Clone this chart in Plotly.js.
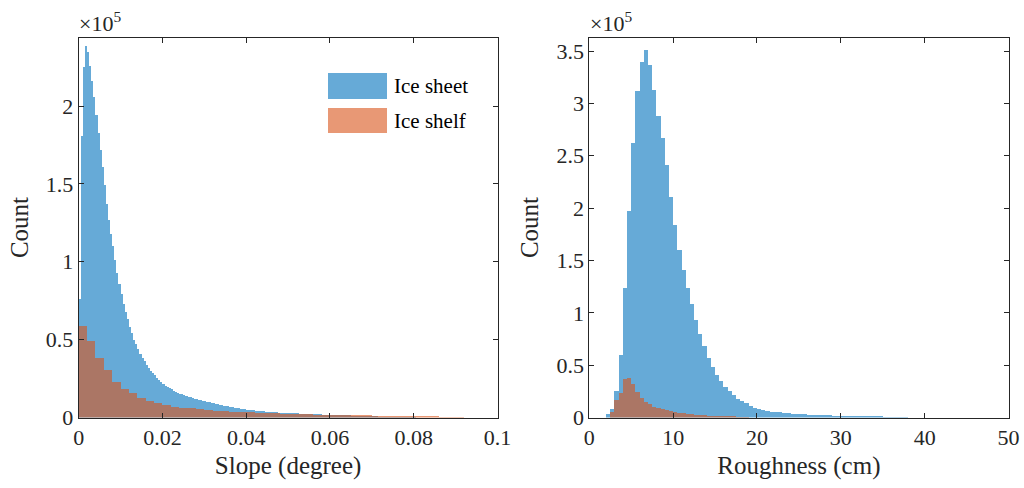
<!DOCTYPE html>
<html>
<head>
<meta charset="utf-8">
<script src="https://cdn.plot.ly/plotly-3.0.1.min.js"></script>
<style>html,body{margin:0;padding:0;background:#fff;}#chart{width:1024px;height:488px;}</style>
</head>
<body>
<div id="chart"></div>
<script>
// ---- Data ----
// Slope histogram (degree): Ice sheet bins of 0.0005 starting at 0
const slopeSheetStart = 0;
const slopeSheetWidth = 0.0005;
const slopeSheetCounts = [76000,181000,225000,238500,235000,226000,216000,206000,194000,183000,172000,161000,149000,137000,127000,118000,110000,101000,93000,86000,79000,73000,68000,63000,58000,54000,50000,47000,44000,41000,38500,36000,34000,32000,30000,28500,27000,25500,24000,22500,21500,20500,19500,18700,18000,17300,16600,16000,15400,14800,14300,13800,13300,12900,12500,12100,11700,11300,11000,10600,10300,10000,9700,9400,9100,8800,8500,8100,7900,7600,7400,7100,6900,6600,6400,6100,5900,5700,5500,5300,5100,4900,4700,4600,4400,4300,4200,4000,3900,3800,3700,3600,3500,3400,3300,3200,3100,3000,3000,2900,2800,2800,2700,2600,2600,2500,2500,2400,2400,2300,2200,2200,2100,2100,2000,2000,1900,1900,1800,1800,1700,1700,1600,1600,1500,1500,1400,1400,1300,1300,1200,1200,1100,1100,1000,1000,900,900,800,800,700,700,700,600,600,600,500,500,500,400,400,400,300,300,300,200,200,200,200,100,100];
// Ice shelf bins of 0.002 starting at 0
const slopeShelfStart = 0;
const slopeShelfWidth = 0.002;
const slopeShelfCounts = [58500,49000,38500,30500,23000,18000,15500,12500,10800,9400,8100,7000,6400,6000,5600,4700,4300,4000,3700,3500,3300,3100,2900,2700,2500,2400,2200,2100,1900,1800,1700,1600,1500,1400,1300,1200,1100,1000,1000,900,900,800,700,600,500,400];

// Roughness histogram (cm): bins of 0.5
const roughSheetStart = 2.0;
const roughSheetWidth = 0.5;
const roughSheetCounts = [2900,8300,25000,60000,124000,197000,262000,312000,340000,351500,337000,313000,288000,267000,241000,211000,184000,160000,141000,124000,108000,93000,80000,68000,57000,48500,40500,35000,29500,25000,21500,18000,15600,13400,10800,9300,8300,7000,6400,5700,5400,5000,4700,4200,3800,3500,3200,2900,2700,2500,2300,2200,2100,2000,1900,1800,1700,1600,1500,1400,1300,1300,1200,1100,1100,1000,900,900,800,700,600,500];
const roughShelfStart = 2.5;
const roughShelfWidth = 0.5;
const roughShelfCounts = [5000,17000,23000,37000,38000,32000,24000,18500,15000,13000,10500,9000,7800,6800,5800,5000,4400,3900,3400,3000,2700,2400,2100,1900,1700,1500,1300,1200,1100,1000,900,800,700];

const seriesNames = ['Ice sheet', 'Ice shelf'];
const xTicksSlope = [0, 0.02, 0.04, 0.06, 0.08, 0.1];
const xTicksRough = [0, 10, 20, 30, 40, 50];
const yTicksSlope = [0, 50000, 100000, 150000, 200000];
const yTickTextSlope = ['0', '0.5', '1', '1.5', '2'];
const yTicksRough = [0, 50000, 100000, 150000, 200000, 250000, 300000, 350000];
const yTickTextRough = ['0', '0.5', '1', '1.5', '2', '2.5', '3', '3.5'];

// ---- Build ----
const W = 1024, H = 488;
const px = v => v / W;
const py = v => 1 - v / H;
const blue = 'rgb(0,114,189)';
const red = 'rgb(217,83,25)';
const fontFam = 'Liberation Serif, Times New Roman, serif';
const txt = '#262626';

function edges(start, width, n) { const a = []; for (let i = 0; i < n; i++) a.push(start + i * width); return a; }
function barTrace(start, width, counts, color, name, xa, ya) {
  return {
    type: 'bar', name: name, x: edges(start, width, counts.length), y: counts,
    width: width, offset: 0, xaxis: xa, yaxis: ya,
    marker: {color: color, opacity: 0.6, line: {width: 0}},
    opacity: 1, showlegend: false, hoverinfo: 'x+y'
  };
}

const data = [
  barTrace(slopeSheetStart, slopeSheetWidth, slopeSheetCounts, blue, seriesNames[0], 'x', 'y'),
  barTrace(slopeShelfStart, slopeShelfWidth, slopeShelfCounts, red, seriesNames[1], 'x', 'y'),
  barTrace(roughSheetStart, roughSheetWidth, roughSheetCounts, blue, seriesNames[0], 'x2', 'y2'),
  barTrace(roughShelfStart, roughShelfWidth, roughShelfCounts, red, seriesNames[1], 'x2', 'y2')
];

const tickFont = {family: fontFam, size: 22, color: txt};
const titleFont = {family: fontFam, size: 25, color: txt};
const axBase = {
  showgrid: false, zeroline: false, showline: true, linecolor: txt, linewidth: 1,
  mirror: 'ticks', ticks: 'inside', ticklen: 5, tickwidth: 1, tickcolor: txt,
  tickfont: tickFont, fixedrange: true
};
const yTop = py(37.5), yBot = py(417.5);

const layout = {
  width: W, height: H,
  margin: {l: 0, r: 0, t: 0, b: 0},
  paper_bgcolor: '#fff', plot_bgcolor: '#fff',
  barmode: 'overlay', bargap: 0, showlegend: false,
  font: {family: fontFam, color: txt},
  xaxis: Object.assign({}, axBase, {domain: [px(78.7), px(497.5)], range: [0, 0.1], anchor: 'y',
    tickvals: xTicksSlope, ticktext: xTicksSlope.map(String),
    title: {text: 'Slope (degree)', font: titleFont, standoff: 7}}),
  yaxis: Object.assign({}, axBase, {domain: [yBot, yTop], range: [0, 244000], anchor: 'x',
    tickvals: yTicksSlope, ticktext: yTickTextSlope,
    title: {text: 'Count', font: titleFont, standoff: 10}}),
  xaxis2: Object.assign({}, axBase, {domain: [px(589.3), px(1008.5)], range: [0, 50], anchor: 'y2',
    tickvals: xTicksRough, ticktext: xTicksRough.map(String),
    title: {text: 'Roughness (cm)', font: titleFont, standoff: 7}}),
  yaxis2: Object.assign({}, axBase, {domain: [yBot, yTop], range: [0, 363000], anchor: 'x2',
    tickvals: yTicksRough, ticktext: yTickTextRough,
    title: {text: 'Count', font: titleFont, standoff: 10}}),
  shapes: [
    {type: 'rect', xref: 'paper', yref: 'paper', x0: px(328), x1: px(387), y0: py(99), y1: py(73),
     fillcolor: blue, opacity: 0.6, line: {width: 0}},
    {type: 'rect', xref: 'paper', yref: 'paper', x0: px(328), x1: px(387), y0: py(133), y1: py(108),
     fillcolor: red, opacity: 0.6, line: {width: 0}}
  ],
  annotations: [
    {xref: 'paper', yref: 'paper', x: px(392), y: py(86), xanchor: 'left', yanchor: 'middle',
     text: seriesNames[0], showarrow: false, font: {family: fontFam, size: 21, color: '#000'}},
    {xref: 'paper', yref: 'paper', x: px(392), y: py(120.5), xanchor: 'left', yanchor: 'middle',
     text: seriesNames[1], showarrow: false, font: {family: fontFam, size: 21, color: '#000'}},
    {xref: 'paper', yref: 'paper', x: px(77), y: py(38), xanchor: 'left', yanchor: 'bottom',
     text: '×10<sup>5</sup>', showarrow: false, font: {family: fontFam, size: 22, color: txt}},
    {xref: 'paper', yref: 'paper', x: px(588), y: py(38), xanchor: 'left', yanchor: 'bottom',
     text: '×10<sup>5</sup>', showarrow: false, font: {family: fontFam, size: 22, color: txt}}
  ]
};

Plotly.newPlot('chart', data, layout, {displayModeBar: false, staticPlot: true});
</script>
</body>
</html>
